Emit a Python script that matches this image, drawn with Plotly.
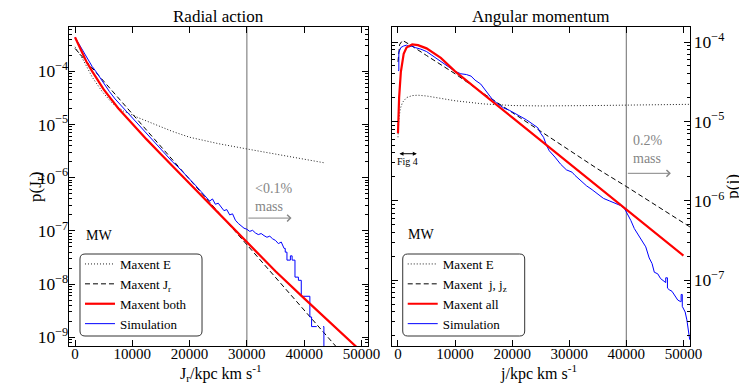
import numpy as np
import plotly.graph_objects as go

FONT = "Liberation Serif"

# ---------------- Radial action (left panel) ----------------
# values, stored as log10(p)
rad_e_j = [0, 1300, 3000, 4800, 6500, 8500, 11000, 14000, 17000, 20000, 25000, 30000, 35000, 40000, 43500]
rad_e_log = [-3.54, -3.76, -4.11, -4.39, -4.60, -4.75, -4.87, -5.00, -5.13, -5.24, -5.36, -5.46, -5.56, -5.65, -5.72]

rad_jr_j = [0, 10000, 20000, 30000, 40000, 50000]
rad_jr_log = [-3.57, -4.80, -6.04, -7.28, -8.50, -9.72]

rad_both_j = [0, 1000, 2000, 3000, 5000, 7500, 10000, 12500, 15000, 20000, 25000, 30000, 35000, 40000, 45000, 50000]
rad_both_log = [-3.36, -3.60, -3.82, -4.00, -4.34, -4.69, -4.99, -5.28, -5.56, -6.11, -6.66, -7.22, -7.76, -8.27, -8.77, -9.27]

# simulation histogram (repeated J values are the vertical steps of the histogram)
rad_sim_j = [0, 500, 1000, 1500, 2000, 2500, 3000, 3500, 4000, 5000, 6000, 7000, 8000, 9000,
             10000, 11000, 12000, 13000, 14000, 15000, 16000, 17000, 18000, 19000, 20000, 21000,
             22000, 23000, 23500, 24000, 24500, 25000, 25500, 26000, 26500, 27000, 27500, 28000,
             28500, 29000, 29500, 30000, 30500, 31000, 31500, 32000, 32500, 33000, 33500, 34000,
             34500, 35000, 35500, 36000, 36500, 36700, 36700, 37000, 37000, 37600, 37600, 37900,
             37900, 38400, 38400, 39000, 39000, 39500, 39500, 41000, 41000, 41300, 41300, 42200,
             42300, 43300, 43450, 43450]
rad_sim_log = [-3.36, -3.45, -3.55, -3.65, -3.74, -3.83, -3.91, -3.98, -4.06, -4.23, -4.38, -4.52, -4.64, -4.75,
               -4.86, -4.99, -5.12, -5.24, -5.36, -5.47, -5.59, -5.70, -5.80, -5.91, -6.02, -6.14,
               -6.26, -6.37, -6.44, -6.40, -6.50, -6.48, -6.56, -6.62, -6.60, -6.70, -6.68, -6.80,
               -6.86, -6.90, -6.95, -6.97, -7.01, -6.99, -7.04, -7.07, -7.05, -7.09, -7.12, -7.10,
               -7.15, -7.18, -7.24, -7.21, -7.33, -7.33, -7.40, -7.40, -7.55, -7.55, -7.47, -7.47,
               -7.55, -7.55, -7.87, -7.87, -7.93, -7.93, -8.23, -8.23, -8.62, -8.62, -8.80, -8.80,
               np.nan, -8.80, -8.80, -10.0]

# ---------------- Angular momentum (right panel) ----------------
ang_e_j = [0, 150, 400, 800, 1500, 2500, 3500, 5000, 7500, 10000, 15000, 20000, 25000, 30000, 35000, 40000, 45000, 51150]
ang_e_log = [-5.20, -4.98, -4.84, -4.76, -4.70, -4.675, -4.67, -4.68, -4.71, -4.74, -4.78, -4.80, -4.805, -4.805, -4.80, -4.795, -4.79, -4.785]

ang_jjz_j = [0, 300, 800, 2000, 5000, 10000, 15000, 20000, 25000, 30000, 35000, 40000, 45000, 50000, 51150]
ang_jjz_log = [-4.25, -4.03, -3.98, -4.03, -4.17, -4.40, -4.65, -4.89, -5.13, -5.37, -5.60, -5.82, -6.05, -6.28, -6.33]

ang_all_j = [0, 200, 500, 1000, 1500, 2500, 3500, 5000, 7500, 10000, 20000, 30000, 40000, 50000]
ang_all_log = [-5.15, -4.70, -4.38, -4.15, -4.07, -4.03, -4.04, -4.08, -4.20, -4.37, -4.95, -5.53, -6.11, -6.69]

ang_sim_j = [0, 150, 150, 500, 1000, 1500, 2000, 2500, 3000, 4000, 5000, 6000, 7000, 8000, 9000, 10000,
             11000, 12000, 12800, 13500, 14500, 15500, 16500, 17500, 18500, 19500, 20500, 21500,
             22500, 23500, 24500, 25000, 25500, 26000, 26500, 27500, 28500, 29500, 30500, 31000,
             32000, 33000, 34000, 35000, 36000, 37000, 38000, 39000, 39700, 40200, 40800, 41400,
             42000, 42700, 43400, 44000, 44500, 44900, 45500, 46000, 46500, 46900, 46900, 47200,
             47200, 47500, 48000, 48500, 49000, 49500, 49600, 49600, 49800, 49800, 50300, 50600,
             50900, 51100]
ang_sim_log = [-4.36, -4.36, -4.13, -4.07, -4.05, -4.04, -4.06, -4.05, -4.07, -4.09, -4.12, -4.17, -4.22, -4.27, -4.32, -4.37,
               -4.40, -4.41, -4.43, -4.48, -4.53, -4.62, -4.72, -4.78, -4.83, -4.86, -4.90, -4.93,
               -4.98, -5.03, -5.08, -5.15, -5.20, -5.30, -5.37, -5.45, -5.54, -5.61, -5.64, -5.68,
               -5.75, -5.81, -5.86, -5.92, -5.97, -6.00, -6.03, -6.06, -6.10, -6.16, -6.25, -6.35,
               -6.42, -6.50, -6.58, -6.72, -6.79, -6.90, -6.92, -6.98, -7.01, -7.03, -6.97, -6.97,
               -7.10, -7.12, -7.14, -7.20, -7.25, -7.27, -7.27, -7.18, -7.18, -7.33, -7.40, -7.50,
               -7.69, -7.75]

x_ticks = [0, 10000, 20000, 30000, 40000, 50000]
rad_cut = 30000   # "<0.1% mass" marker
ang_cut = 40000   # "0.2% mass" marker


def p(logs):
    return np.power(10.0, np.array(logs, dtype=float))


def rounded_box(x0, y0, x1, y1, rx, ry):
    return (f"M{x0 + rx},{y0} L{x1 - rx},{y0} Q{x1},{y0} {x1},{y0 + ry} "
            f"L{x1},{y1 - ry} Q{x1},{y1} {x1 - rx},{y1} L{x0 + rx},{y1} "
            f"Q{x0},{y1} {x0},{y1 - ry} L{x0},{y0 + ry} Q{x0},{y0} {x0 + rx},{y0} Z")


dot = dict(color="#222", width=1, dash="1px,2px")
dash = dict(color="black", width=1, dash="5px,3px")
red = dict(color="rgb(255,0,0)", width=2.2)
blue = dict(color="rgb(0,0,255)", width=1)

fig = go.Figure()

# left
fig.add_trace(go.Scatter(x=rad_e_j, y=p(rad_e_log), mode="lines", name="Maxent E", line=dot,
                         legendrank=1, legend="legend"))
fig.add_trace(go.Scatter(x=rad_jr_j, y=p(rad_jr_log), mode="lines", name="Maxent J<sub>r</sub>", line=dash,
                         legendrank=2, legend="legend"))
fig.add_trace(go.Scatter(x=rad_sim_j, y=p(rad_sim_log), mode="lines", name="Simulation", line=blue,
                         connectgaps=False, legendrank=4, legend="legend"))
fig.add_trace(go.Scatter(x=rad_both_j, y=p(rad_both_log), mode="lines", name="Maxent both", line=red,
                         legendrank=3, legend="legend"))

# right
fig.add_trace(go.Scatter(x=ang_e_j, y=p(ang_e_log), mode="lines", name="Maxent E", line=dot,
                         xaxis="x2", yaxis="y2", legendrank=1, legend="legend2"))
fig.add_trace(go.Scatter(x=ang_jjz_j, y=p(ang_jjz_log), mode="lines", name="Maxent  j, j<sub>z</sub>", line=dash,
                         xaxis="x2", yaxis="y2", legendrank=2, legend="legend2"))
fig.add_trace(go.Scatter(x=ang_sim_j, y=p(ang_sim_log), mode="lines", name="Simulation", line=blue,
                         xaxis="x2", yaxis="y2", legendrank=4, legend="legend2"))
fig.add_trace(go.Scatter(x=ang_all_j, y=p(ang_all_log), mode="lines", name="Maxent all", line=red,
                         xaxis="x2", yaxis="y2", legendrank=3, legend="legend2"))

xcommon = dict(range=[-1050, 51150], tickvals=x_ticks, tickformat="d", ticks="inside", ticklen=6,
               tickcolor="black", showline=True, linecolor="black", linewidth=1, mirror="ticks",
               showgrid=False, zeroline=False, tickfont=dict(size=15), ticklabelstandoff=-6)
ycommon = dict(type="log", dtick=1, exponentformat="power", ticks="inside", ticklen=6, tickcolor="black",
               showline=True, linecolor="black", linewidth=1, mirror="ticks", showgrid=False,
               zeroline=False, tickfont=dict(size=14),
               minor=dict(ticks="inside", ticklen=3, tickcolor="black", showgrid=False))

legcommon = dict(xanchor="left", yanchor="top", y=0.3041, bgcolor="rgba(0,0,0,0)",
                 borderwidth=0, font=dict(size=13, color="black"), tracegroupgap=0)

grey = "#858585"
rx, ry = 5 / 621, 5 / 319
shapes = [
    dict(type="line", xref="x", yref="y domain", x0=rad_cut, x1=rad_cut, y0=0, y1=1,
         line=dict(color=grey, width=1.2), layer="below"),
    dict(type="line", xref="x2", yref="y2 domain", x0=ang_cut, x1=ang_cut, y0=0, y1=1,
         line=dict(color=grey, width=1.2), layer="below"),
    dict(type="path", xref="paper", yref="paper", path=rounded_box(0.0177, 0.0313, 0.2142, 0.2884, rx, ry),
         line=dict(color="#333", width=1), fillcolor="white", layer="above"),
    dict(type="path", xref="paper", yref="paper", path=rounded_box(0.5374, 0.0313, 0.7338, 0.2884, rx, ry),
         line=dict(color="#333", width=1), fillcolor="white", layer="above"),
]

annotations = [
    dict(text="Radial action", xref="x domain", yref="y domain", x=0.5, y=1, yanchor="middle",
         yshift=11, showarrow=False, font=dict(size=17)),
    dict(text="Angular momentum", xref="x2 domain", yref="y2 domain", x=0.5, y=1, yanchor="middle",
         yshift=11, showarrow=False, font=dict(size=17)),
    # axis titles
    dict(text="J<sub>r</sub>/kpc km s<sup>-1</sup>", xref="x domain", yref="paper", x=0.51, y=-0.084,
         yanchor="middle", showarrow=False, font=dict(size=16)),
    dict(text="j/kpc km s<sup>-1</sup>", xref="x2 domain", yref="paper", x=0.49, y=-0.084,
         yanchor="middle", showarrow=False, font=dict(size=16)),
    dict(text="p(J<sub>r</sub>)", xref="paper", yref="y domain", x=-0.0525, y=0.5, textangle=-90,
         xanchor="center", yanchor="middle", showarrow=False, font=dict(size=17)),
    dict(text="p(j)", xref="paper", yref="y2 domain", x=1.068, y=0.5, textangle=-90,
         xanchor="center", yanchor="middle", showarrow=False, font=dict(size=17)),
    dict(text="MW", xref="x domain", yref="y domain", x=0.05, y=0.317, xanchor="left",
         showarrow=False, font=dict(size=14)),
    dict(text="MW", xref="x2 domain", yref="y2 domain", x=0.048, y=0.32, xanchor="left",
         showarrow=False, font=dict(size=14)),
    dict(text="<0.1%<br>mass", xref="x", yref="y", x=31000, y=-6.37, xanchor="left",
         align="left", showarrow=False, font=dict(size=14, color=grey)),
    dict(x=37800, y=-6.76, ax=rad_cut, ay=-6.76, xref="x", yref="y", axref="x", ayref="y",
         showarrow=True, arrowhead=4, arrowsize=1.3, arrowwidth=1, arrowcolor=grey, text=""),
    dict(text="0.2%<br>mass", xref="x2", yref="y2", x=40900, y=-5.35, xanchor="left",
         align="left", showarrow=False, font=dict(size=14, color=grey)),
    dict(x=47800, y=-5.654, ax=ang_cut, ay=-5.654, xref="x2", yref="y2", axref="x2", ayref="y2",
         showarrow=True, arrowhead=4, arrowsize=1.3, arrowwidth=1, arrowcolor=grey, text=""),
    dict(x=3300, y=-5.407, ax=0, ay=-5.407, xref="x2", yref="y2", axref="x2", ayref="y2",
         showarrow=True, arrowhead=2, arrowside="end+start", arrowsize=0.8, arrowwidth=1,
         arrowcolor="black", text=""),
    dict(text="Fig 4", xref="x2", yref="y2", x=1700, y=-5.51, showarrow=False, font=dict(size=10)),
]

# the page body adds an 8px offset, so the figure is 8px smaller than the window
fig.update_layout(
    width=739, height=380,
    margin=dict(l=61, r=57, t=19, b=42, autoexpand=False),
    paper_bgcolor="white", plot_bgcolor="white",
    font=dict(family=FONT, color="black", size=14),
    xaxis=dict(domain=[0, 0.4815], anchor="y", **xcommon),
    yaxis=dict(domain=[0, 1], anchor="x", range=[-9.165, -3.167], ticklabelstandoff=-3, **ycommon),
    xaxis2=dict(domain=[0.5201, 1], anchor="y2", **xcommon),
    yaxis2=dict(domain=[0, 1], anchor="x2", side="right", range=[-7.829, -3.811], ticklabelstandoff=0,
                **ycommon),
    legend=dict(x=0.0177, **legcommon),
    legend2=dict(x=0.5374, **legcommon),
    shapes=shapes,
    annotations=annotations,
)

fig.write_html("out.html")
